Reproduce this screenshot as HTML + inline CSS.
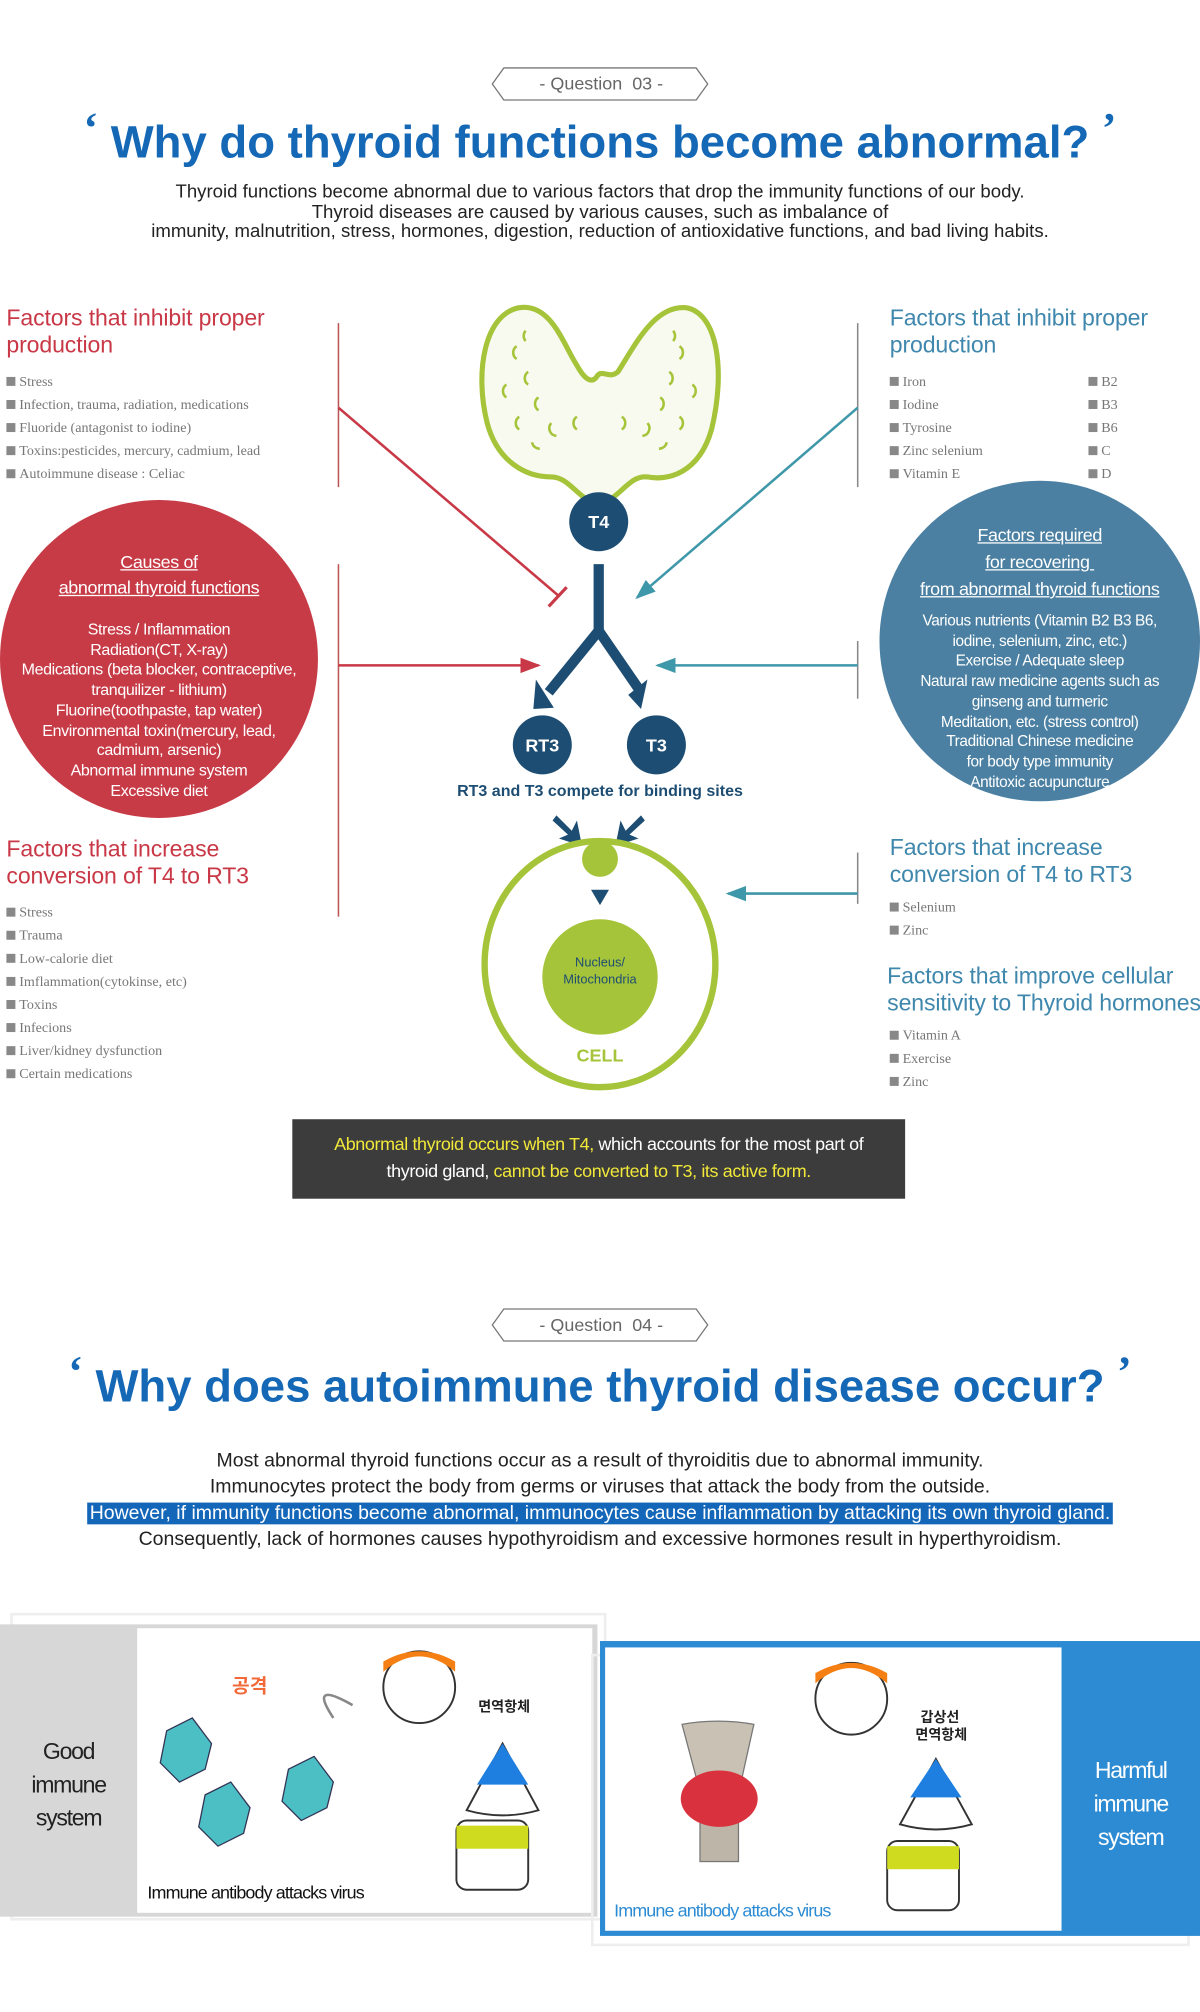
<!DOCTYPE html>
<html><head><meta charset="utf-8">
<style>
html,body{margin:0;padding:0;background:#fff;}
body{width:1200px;height:2011px;overflow:hidden;position:relative;}
#w{position:absolute;left:0;top:0;width:936px;height:1569px;transform:scale(1.28205);transform-origin:0 0;font-family:"Liberation Sans",sans-serif;}
.a{position:absolute;white-space:nowrap;}
.c{text-align:center;}
.hr{color:#c93846;font-size:18px;letter-spacing:-0.1px;line-height:21px;}
.hb{color:#3f87ad;font-size:18px;letter-spacing:-0.1px;line-height:21px;}
.li{font-family:"Liberation Serif",serif;font-size:11px;color:#777;line-height:18px;}
.li span{display:inline-block;width:7px;height:7px;background:#888;margin-right:3px;vertical-align:0px;}
.title{color:#1468b5;font-size:35.5px;font-weight:bold;}
.q{color:#1468b5;font-size:34px;font-family:"Liberation Serif",serif;font-weight:bold;position:relative;top:-12px;}
.p{font-size:14.5px;color:#222;line-height:15.5px;}
.circ{font-size:12.5px;color:#fff;line-height:15.7px;letter-spacing:-0.3px;}
</style></head><body><div id="w">

<!-- Question 03 tag -->
<svg class="a" style="left:383px;top:52px" width="172" height="28"><polygon points="10,1 160,1 169,13.5 160,26 10,26 1,13.5" fill="#fff" stroke="#777" stroke-width="1"/></svg>
<div class="a c" style="left:383px;top:57px;width:172px;font-size:14px;color:#666">- Question &nbsp;03 -</div>
<div class="a c title" style="left:0;top:91px;width:936px"><span class="q">‘</span> Why do thyroid functions become abnormal? <span class="q">’</span></div>
<div class="a c p" style="left:0;top:143px;width:936px">Thyroid functions become abnormal due to various factors that drop the immunity functions of our body.<br>Thyroid diseases are caused by various causes, such as imbalance of<br>immunity, malnutrition, stress, hormones, digestion, reduction of antioxidative functions, and bad living habits.</div>

<!-- Left headings -->
<div class="a hr" style="left:5px;top:238px">Factors that inhibit proper<br>production</div>
<div class="a li" style="left:5px;top:289px"><span></span>Stress<br><span></span>Infection, trauma, radiation, medications<br><span></span>Fluoride (antagonist to iodine)<br><span></span>Toxins:pesticides, mercury, cadmium, lead<br><span></span>Autoimmune disease : Celiac</div>

<svg class="a" style="left:0;top:390px" width="250" height="250"><circle cx="124" cy="124" r="124" fill="#c73b47"/></svg>
<div class="a c circ" style="left:0;top:428px;width:248px;font-size:14px;line-height:20px"><u>Causes of</u><br><u>abnormal thyroid functions</u></div>
<div class="a c circ" style="left:0;top:484px;width:248px">Stress / Inflammation<br>Radiation(CT, X-ray)<br>Medications (beta blocker, contraceptive,<br>tranquilizer - lithium)<br>Fluorine(toothpaste, tap water)<br>Environmental toxin(mercury, lead,<br>cadmium, arsenic)<br>Abnormal immune system<br>Excessive diet</div>

<div class="a hr" style="left:5px;top:652px">Factors that increase<br>conversion of T4 to RT3</div>
<div class="a li" style="left:5px;top:703px"><span></span>Stress<br><span></span>Trauma<br><span></span>Low-calorie diet<br><span></span>Imflammation(cytokinse, etc)<br><span></span>Toxins<br><span></span>Infecions<br><span></span>Liver/kidney dysfunction<br><span></span>Certain medications</div>

<!-- Right -->
<div class="a hb" style="left:694px;top:238px">Factors that inhibit proper<br>production</div>
<div class="a li" style="left:694px;top:289px"><span></span>Iron<br><span></span>Iodine<br><span></span>Tyrosine<br><span></span>Zinc selenium<br><span></span>Vitamin E</div>
<div class="a li" style="left:849px;top:289px"><span></span>B2<br><span></span>B3<br><span></span>B6<br><span></span>C<br><span></span>D</div>

<svg class="a" style="left:686px;top:374px" width="252" height="252"><circle cx="125" cy="126" r="125" fill="#4b80a2"/></svg>
<div class="a c circ" style="left:686px;top:407px;width:250px;font-size:14px;line-height:21px"><u>Factors required</u><br><u>for recovering&nbsp;</u><br><u>from abnormal thyroid functions</u></div>
<div class="a c circ" style="left:686px;top:477px;width:250px;font-size:12px">Various nutrients (Vitamin B2 B3 B6,<br>iodine, selenium, zinc, etc.)<br>Exercise / Adequate sleep<br>Natural raw medicine agents such as<br>ginseng and turmeric<br>Meditation, etc. (stress control)<br>Traditional Chinese medicine<br>for body type immunity<br>Antitoxic acupuncture</div>

<div class="a hb" style="left:694px;top:651px">Factors that increase<br>conversion of T4 to RT3</div>
<div class="a li" style="left:694px;top:699px"><span></span>Selenium<br><span></span>Zinc</div>
<div class="a hb" style="left:692px;top:751px">Factors that improve cellular<br>sensitivity to Thyroid hormones</div>
<div class="a li" style="left:694px;top:799px"><span></span>Vitamin A<br><span></span>Exercise<br><span></span>Zinc</div>

<!-- Center diagram -->
<svg class="a" style="left:0;top:0" width="936" height="870">
<defs>
<marker id="ar" markerWidth="8" markerHeight="6" refX="7" refY="3" orient="auto"><path d="M0,0 L8,3 L0,6z" fill="#c93846"/></marker>
<marker id="ab" markerWidth="8" markerHeight="6" refX="7" refY="3" orient="auto"><path d="M0,0 L8,3 L0,6z" fill="#3f98a9"/></marker>
</defs>
<line x1="264" y1="252" x2="264" y2="380" stroke="#b55" stroke-width="1.2"/>
<line x1="264" y1="440" x2="264" y2="715" stroke="#b55" stroke-width="1.2"/>
<line x1="669" y1="252" x2="669" y2="380" stroke="#888" stroke-width="1.2"/>
<line x1="669" y1="500" x2="669" y2="545" stroke="#888" stroke-width="1.2"/>
<line x1="669" y1="665" x2="669" y2="705" stroke="#888" stroke-width="1.2"/>
<line x1="264" y1="318" x2="436" y2="465" stroke="#c93846" stroke-width="2"/>
<line x1="428" y1="473" x2="442" y2="458" stroke="#c93846" stroke-width="2.5"/>
<line x1="264" y1="519" x2="420" y2="519" stroke="#c93846" stroke-width="2" marker-end="url(#ar)"/>
<line x1="669" y1="318" x2="497" y2="466" stroke="#3f98a9" stroke-width="2" marker-end="url(#ab)"/>
<line x1="669" y1="519" x2="513" y2="519" stroke="#3f98a9" stroke-width="2" marker-end="url(#ab)"/>
<line x1="669" y1="697" x2="568" y2="697" stroke="#3f98a9" stroke-width="2" marker-end="url(#ab)"/>
<!-- thyroid -->
<path d="M380,330 C370,290 378,245 405,240 C430,236 440,270 450,285 C456,296 462,300 466,293 C470,288 475,296 482,290 C495,270 510,238 535,240 C560,244 566,290 555,335 C545,370 520,375 505,372 C490,370 482,392 467,392 C452,392 445,372 430,372 C410,372 388,360 380,330Z" fill="#f8faf0" stroke="#a6c43a" stroke-width="4"/>
<g fill="none" stroke="#a6c43a" stroke-width="2">
<path d="M403,270 a6,6 0 0 0 0,10"/><path d="M412,290 a6,6 0 0 0 0,10"/><path d="M395,300 a6,6 0 0 0 0,10"/><path d="M420,310 a6,6 0 0 0 0,10"/><path d="M405,325 a6,6 0 0 0 0,10"/><path d="M430,330 a6,6 0 0 0 4,10"/><path d="M415,345 a6,6 0 0 0 6,5"/><path d="M450,325 a6,6 0 0 0 0,10"/><path d="M410,258 a6,6 0 0 0 0,8"/>
<path d="M530,270 a6,6 0 0 1 0,10"/><path d="M522,290 a6,6 0 0 1 0,10"/><path d="M540,300 a6,6 0 0 1 0,10"/><path d="M515,310 a6,6 0 0 1 0,10"/><path d="M530,325 a6,6 0 0 1 0,10"/><path d="M505,330 a6,6 0 0 1 -4,10"/><path d="M520,345 a6,6 0 0 1 -6,5"/><path d="M485,325 a6,6 0 0 1 0,10"/><path d="M525,258 a6,6 0 0 1 0,8"/>
</g>
<circle cx="467" cy="407" r="23" fill="#1d4d72"/>
<path d="M467,440 L467,492 L428,540 M467,492 L500,540" stroke="#1d4d72" stroke-width="8" fill="none"/>
<path d="M418,530 L432,552 L416,553Z M505,530 L500,553 L490,542Z" fill="#1d4d72"/>
<circle cx="423" cy="581" r="23" fill="#1d4d72"/>
<circle cx="512" cy="581" r="23" fill="#1d4d72"/>
<path d="M434,636 L446,648 L450,640 L454,660 L436,654 L443,651 L431,640Z" fill="#1d4d72"/>
<path d="M500,636 L488,648 L484,640 L480,660 L498,654 L491,651 L503,640Z" fill="#1d4d72"/>
<ellipse cx="468" cy="752" rx="90" ry="96" fill="#fff" stroke="#a6c43a" stroke-width="5"/>
<circle cx="468" cy="670" r="14" fill="#a6c43a"/>
<path d="M461,694 L475,694 L468,706Z" fill="#1d4d72"/>
<circle cx="468" cy="762" r="45" fill="#a6c43a"/>
</svg>
<div class="a c" style="left:444px;top:399px;width:46px;color:#fff;font-weight:bold;font-size:14px">T4</div>
<div class="a c" style="left:400px;top:573px;width:46px;color:#fff;font-weight:bold;font-size:14px">RT3</div>
<div class="a c" style="left:489px;top:573px;width:46px;color:#fff;font-weight:bold;font-size:14px">T3</div>
<div class="a c" style="left:330px;top:610px;width:276px;color:#1d4d72;font-weight:bold;font-size:12.5px">RT3 and T3 compete for binding sites</div>
<div class="a c" style="left:420px;top:745px;width:96px;color:#1d4d72;font-size:10px;line-height:13px">Nucleus/<br>Mitochondria</div>
<div class="a c" style="left:420px;top:815px;width:96px;color:#a6c43a;font-weight:bold;font-size:14px">CELL</div>

<div class="a c" style="left:228px;top:873px;width:478px;height:62px;background:#3c3c3c;font-size:14px;color:#fff;line-height:21px;padding-top:9px;box-sizing:border-box;letter-spacing:-0.3px"><span style="color:#f1e83a">Abnormal thyroid occurs when T4,</span> which accounts for the most part of<br>thyroid gland, <span style="color:#f1e83a">cannot be converted to T3, its active form.</span></div>

<!-- Question 04 -->
<svg class="a" style="left:383px;top:1020px" width="172" height="28"><polygon points="10,1 160,1 169,13.5 160,26 10,26 1,13.5" fill="#fff" stroke="#777" stroke-width="1"/></svg>
<div class="a c" style="left:383px;top:1025px;width:172px;font-size:14px;color:#666">- Question &nbsp;04 -</div>
<div class="a c title" style="left:0;top:1061px;width:936px"><span class="q">‘</span> Why does autoimmune thyroid disease occur? <span class="q">’</span></div>
<div class="a c p" style="left:0;top:1130px;width:936px;line-height:20.3px;font-size:15.2px">Most abnormal thyroid functions occur as a result of thyroiditis due to abnormal immunity.<br>Immunocytes protect the body from germs or viruses that attack the body from the outside.<br><span style="background:#1466b8;color:#fff;padding:0 2px">However, if immunity functions become abnormal, immunocytes cause inflammation by attacking its own thyroid gland.</span><br>Consequently, lack of hormones causes hypothyroidism and excessive hormones result in hyperthyroidism.</div>

<!-- Bottom panels -->
<div class="a" style="left:8px;top:1258px;width:465px;height:240px;border:2px solid #eee;box-sizing:border-box"></div>
<div class="a" style="left:0;top:1267px;width:466px;height:228px;background:#d7d7d7"></div>
<div class="a" style="left:107px;top:1270px;width:355px;height:222px;background:#fff"></div>
<div class="a c" style="left:0;top:1353px;width:107px;font-size:18px;line-height:26px;letter-spacing:-1px;color:#222">Good<br>immune<br>system</div>
<div class="a" style="left:115px;top:1468px;font-size:14px;letter-spacing:-0.7px;color:#111">Immune antibody attacks virus</div>

<div class="a" style="left:461px;top:1290px;width:467px;height:228px;border:2px solid #eee;box-sizing:border-box"></div>
<div class="a" style="left:468px;top:1280px;width:468px;height:230px;background:#2d8bd3"></div>
<div class="a" style="left:472px;top:1285px;width:356px;height:221px;background:#fff"></div>
<div class="a c" style="left:828px;top:1368px;width:108px;font-size:18px;line-height:26px;letter-spacing:-1px;color:#fff">Harmful<br>immune<br>system</div>
<div class="a" style="left:479px;top:1482px;font-size:14px;letter-spacing:-0.7px;color:#2d8bd3">Immune antibody attacks virus</div>

<svg class="a" style="left:0;top:0" width="936" height="1569">
<g stroke="#333" stroke-width="1.5">
<circle cx="327" cy="1316" r="28" fill="#fff"/>
<path d="M299,1304 Q327,1280 355,1304 L355,1296 Q327,1280 299,1296Z" fill="#f57f12" stroke="none"/>
<path d="M364,1412 L392,1360 L420,1412 Q392,1420 364,1412Z" fill="#fff"/>
<path d="M372,1392 L392,1360 L412,1392Z" fill="#1e7fe0" stroke="none"/>
<rect x="356" y="1420" width="56" height="54" rx="8" fill="#fff"/>
<rect x="356" y="1424" width="56" height="18" fill="#cfdb1e" stroke="none"/>
</g>
<text x="181" y="1320" font-family="Noto Sans CJK KR,sans-serif" font-size="15" font-weight="bold" fill="#f26a3a">공격</text>
<text x="373" y="1335" font-family="Noto Sans CJK KR,sans-serif" font-size="11" font-weight="bold" fill="#222">면역항체</text>
<g fill="#4cbfc4" stroke="#335" stroke-width="1">
<polygon points="130,1650 150,1640 165,1660 160,1680 140,1690 125,1675" transform="translate(0,-300)"/>
<polygon points="160,1700 180,1690 195,1710 190,1730 170,1740 155,1725" transform="translate(0,-300)"/>
<polygon points="225,1680 245,1670 260,1690 255,1710 235,1720 220,1705" transform="translate(0,-300)"/>
</g>
<path d="M260,1340 Q240,1310 275,1330" fill="none" stroke="#888" stroke-width="2"/>
<g stroke="#333" stroke-width="1.5">
<circle cx="664" cy="1325" r="28" fill="#fff"/>
<path d="M636,1313 Q664,1289 692,1313 L692,1305 Q664,1289 636,1305Z" fill="#f57f12" stroke="none"/>
<path d="M702,1423 L730,1372 L758,1423 Q730,1431 702,1423Z" fill="#fff"/>
<path d="M710,1402 L730,1372 L750,1402Z" fill="#1e7fe0" stroke="none"/>
<rect x="692" y="1436" width="56" height="54" rx="8" fill="#fff"/>
<rect x="692" y="1440" width="56" height="18" fill="#cfdb1e" stroke="none"/>
</g>
<text x="718" y="1343" font-family="Noto Sans CJK KR,sans-serif" font-size="11" font-weight="bold" fill="#222">갑상선</text>
<text x="714" y="1357" font-family="Noto Sans CJK KR,sans-serif" font-size="11" font-weight="bold" fill="#222">면역항체</text>
<path d="M532,1345 Q560,1340 588,1345 L578,1390 L544,1390Z" fill="#c9c2b4" stroke="#777"/>
<rect x="546" y="1390" width="30" height="62" fill="#bdb6a8" stroke="#777"/>
<ellipse cx="561" cy="1403" rx="30" ry="22" fill="#d9323e"/>
</svg>
</div></body></html>
